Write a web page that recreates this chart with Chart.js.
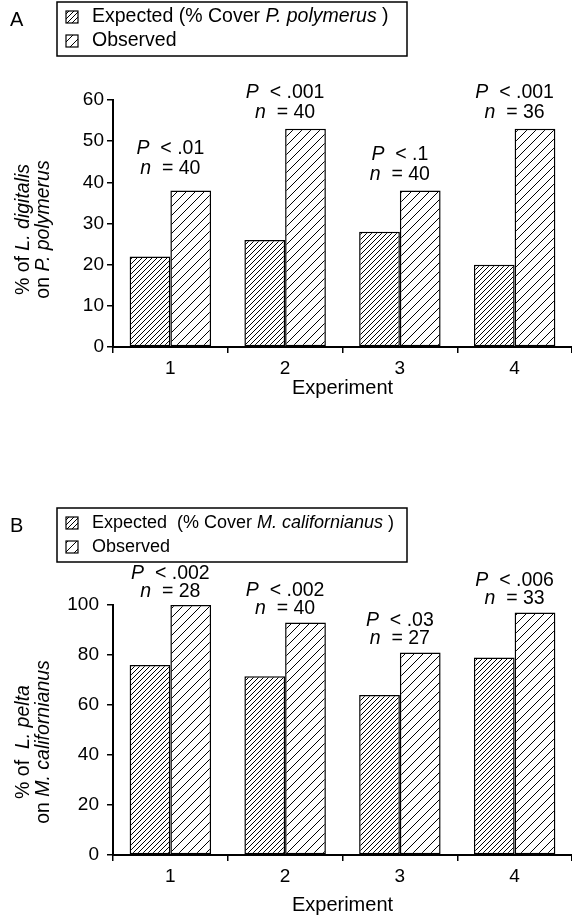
<!DOCTYPE html>
<html lang="en">
<head>
<meta charset="UTF-8" />
<title>Limpet substrate preference</title>
<script src="https://cdn.jsdelivr.net/npm/chart.js"></script>
<style>
  body { margin: 0; background: #fff; width: 572px; height: 916px; position: relative; overflow: hidden; }
  canvas { position: absolute; left: 0; }
  #chartA { top: 0; }
  #chartB { top: 456px; }
</style>
</head>
<body>
<canvas id="chartA" width="572" height="410"></canvas>
<canvas id="chartB" width="572" height="460"></canvas>
<script>
const experiments = ['1', '2', '3', '4'];

// A: L. digitalis on P. polymerus
const expectedA = [22, 26, 28, 20];
const observedA = [38, 53, 38, 53];
const probA = ['< .01', '< .001', '< .1', '< .001'];
const nA = [40, 40, 40, 36];

// B: L. pelta on M. californianus
const expectedB = [76, 71.5, 64, 79];
const observedB = [100, 93, 81, 97];
const probB = ['< .002', '< .002', '< .03', '< .006'];
const nB = [28, 40, 27, 33];

const FONT = '"Liberation Sans", Arial, Helvetica, sans-serif';
const TEXT = 19.5;

// diagonal hatching: dense for expected, wide for observed
function hatch(step, lw) {
  const c = document.createElement('canvas');
  c.width = c.height = step;
  const g = c.getContext('2d');
  g.fillStyle = '#fff';
  g.fillRect(0, 0, step, step);
  g.strokeStyle = '#000';
  g.lineWidth = lw;
  g.beginPath();
  g.moveTo(-1, step + 1); g.lineTo(step + 1, -1);
  g.moveTo(-1, 1); g.lineTo(1, -1);
  g.moveTo(step - 1, step + 1); g.lineTo(step + 1, step - 1);
  g.stroke();
  return g.createPattern(c, 'repeat');
}
const dense = hatch(5, 1);
const sparse = hatch(9, 1);

// text made of [string, italic] pieces
function rich(ctx, parts, x, y, align, size) {
  size = size || TEXT;
  let w = 0;
  parts.forEach(p => { ctx.font = (p[1] ? 'italic ' : '') + size + 'px ' + FONT; w += ctx.measureText(p[0]).width; });
  let cx = align === 'center' ? x - w / 2 : x;
  ctx.textAlign = 'left';
  ctx.textBaseline = 'middle';
  parts.forEach(p => {
    ctx.font = (p[1] ? 'italic ' : '') + size + 'px ' + FONT;
    ctx.fillText(p[0], cx, y);
    cx += ctx.measureText(p[0]).width;
  });
}

function panel(id, o) {
  const extras = {
    id: 'extras',
    afterDraw(chart) {
      const ctx = chart.ctx;
      const area = chart.chartArea;
      const xs = chart.scales.x, ys = chart.scales.y;
      ctx.save();
      ctx.fillStyle = '#000';

      // panel letter
      ctx.font = '20px ' + FONT;
      ctx.textAlign = 'left';
      ctx.textBaseline = 'middle';
      ctx.fillText(o.letter, 10, o.legendTop + 18);

      // legend box
      ctx.strokeStyle = '#000';
      ctx.lineWidth = 1.5;
      ctx.strokeRect(57, o.legendTop, 350, 54);
      [[dense, o.legend[0]], [sparse, o.legend[1]]].forEach((row, i) => {
        const cy = o.legendTop + 15 + i * 24;
        ctx.fillStyle = row[0];
        ctx.fillRect(66, cy - 6, 12, 12);
        ctx.lineWidth = 1.2;
        ctx.strokeRect(66, cy - 6, 12, 12);
        ctx.fillStyle = '#000';
        rich(ctx, row[1], 92, cy, 'left', o.legendSize);
      });

      // y title, two rotated lines
      ctx.save();
      ctx.translate(0, (area.top + area.bottom) / 2 + o.titleShift);
      ctx.rotate(-Math.PI / 2);
      rich(ctx, o.yTitle[0], 0, 24, 'center');
      rich(ctx, o.yTitle[1], 0, 44, 'center');
      ctx.restore();

      // x title
      ctx.font = '20px ' + FONT;
      ctx.textAlign = 'center';
      ctx.textBaseline = 'middle';
      ctx.fillText('Experiment', (area.left + area.right) / 2, area.bottom + o.xTitleGap);

      // significance notes above each pair
      o.expected.forEach((v, i) => {
        const top = Math.min(ys.getPixelForValue(v), ys.getPixelForValue(o.observed[i]));
        const cx = xs.getPixelForValue(i);
        const ny = top - o.gaps[i];
        rich(ctx, [['n', true], ['  = ' + o.n[i], false]], cx, ny, 'center');
        rich(ctx, [['P', true], ['  ' + o.prob[i], false]], cx, ny - o.lineGap, 'center');
      });
      ctx.restore();
    }
  };

  return new Chart(document.getElementById(id), {
    type: 'bar',
    data: {
      labels: experiments,
      datasets: [
        { label: 'Expected', data: o.expected, backgroundColor: dense, borderColor: '#000', borderWidth: 1.5, borderSkipped: false },
        { label: 'Observed', data: o.observed, backgroundColor: sparse, borderColor: '#000', borderWidth: 1.5, borderSkipped: false }
      ]
    },
    options: {
      responsive: false,
      animation: false,
      categoryPercentage: 0.71,
      barPercentage: 1,
      layout: { padding: { top: o.top, left: 0, right: 0, bottom: 0 } },
      plugins: { legend: { display: false }, tooltip: { enabled: false } },
      scales: {
        x: {
          grid: { offset: true, drawOnChartArea: false, tickLength: 6, color: '#000', lineWidth: 1.5 },
          border: { color: '#000', width: 2 },
          ticks: { color: '#000', font: { family: FONT, size: 19 }, padding: 4 },
          afterFit: s => { s.height = o.xHeight; }
        },
        y: {
          min: 0,
          max: o.max,
          ticks: { stepSize: o.step, color: '#000', font: { family: FONT, size: 19 }, padding: o.tickPad },
          grid: { drawOnChartArea: false, tickLength: 6, color: '#000', lineWidth: 1.5 },
          border: { color: '#000', width: 2 },
          afterFit: s => { s.width = 113; }
        }
      }
    },
    plugins: [extras]
  });
}

panel('chartA', {
  letter: 'A', legendTop: 2, legendSize: 19.5,
  legend: [[['Expected (% Cover ', false], ['P. polymerus', true], [' )', false]], [['Observed', false]]],
  yTitle: [[['% of ', false], ['L. digitalis', true]], [['on ', false], ['P. polymerus', true]]],
  expected: expectedA, observed: observedA, prob: probA, n: nA,
  max: 60, step: 10, top: 100, xHeight: 63, titleShift: 6, xTitleGap: 41,
  gaps: [22, 16, 16, 16], lineGap: 20, tickPad: 3
});

panel('chartB', {
  letter: 'B', legendTop: 52, legendSize: 18,
  legend: [[['Expected  (% Cover ', false], ['M. californianus', true], [' )', false]], [['Observed', false]]],
  yTitle: [[['% of  ', false], ['L. pelta', true]], [['on ', false], ['M. californianus', true]]],
  expected: expectedB, observed: observedB, prob: probB, n: nB,
  max: 100, step: 20, top: 149, xHeight: 61, titleShift: 12, xTitleGap: 50,
  gaps: [13, 14, 14, 14], lineGap: 18, tickPad: 8
});
</script>
</body>
</html>
